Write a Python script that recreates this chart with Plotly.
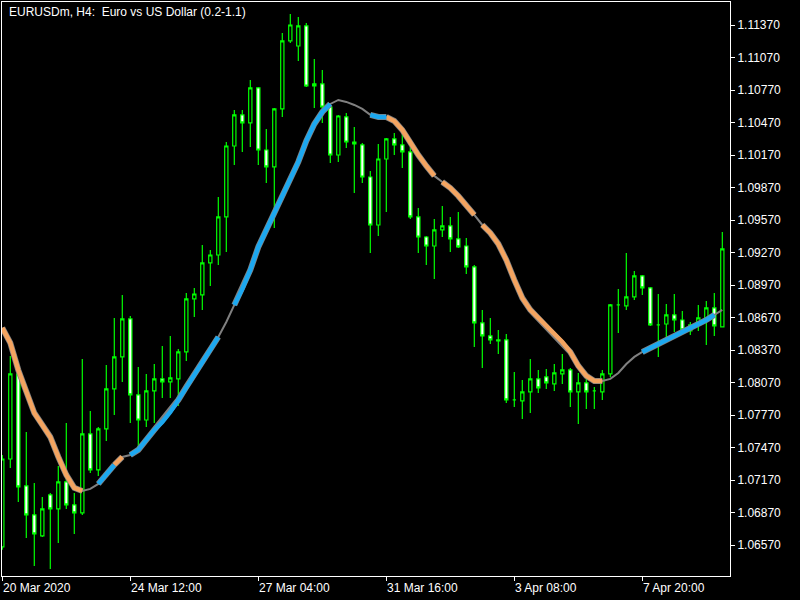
import plotly.graph_objects as go

# ---------------- data (EURUSDm, H4) ----------------
opens = [1.06552, 1.07364, 1.08149, 1.07115, 1.06848, 1.06654, 1.07032, 1.06903, 1.07152, 1.06940,
         1.06866, 1.07595, 1.07263, 1.07641, 1.08011, 1.08306, 1.08657, 1.07955, 1.07724, 1.07992,
         1.08103, 1.08075, 1.08103, 1.08352, 1.08841, 1.08878, 1.09174, 1.09247, 1.09598, 1.10253,
         1.10540, 1.10466, 1.10789, 1.10216, 1.10060, 1.10595, 1.11223, 1.11176, 1.11361, 1.10826,
         1.10826, 1.10613, 1.10170, 1.10521, 1.10290, 1.10263, 1.09967, 1.09524, 1.10133, 1.10318,
         1.10263, 1.10198, 1.09598, 1.09413, 1.09330, 1.09478, 1.09515, 1.09395, 1.09330, 1.09137,
         1.08620, 1.08500, 1.08463, 1.08463, 1.07909, 1.07900, 1.07983, 1.08103, 1.08121, 1.08057,
         1.08149, 1.08186, 1.07983, 1.08066, 1.07992, 1.07983, 1.08149, 1.08786, 1.08777, 1.08860,
         1.09054, 1.08943, 1.08601, 1.08610, 1.08694, 1.08647, 1.08546, 1.08601, 1.08666, 1.08758,
         1.08583]
highs = [1.07401, 1.08315, 1.08167, 1.07614, 1.07143, 1.07014, 1.07051, 1.07300, 1.07697, 1.07051,
         1.08287, 1.07807, 1.07660, 1.08232, 1.08666, 1.08878, 1.08684, 1.08214, 1.08149, 1.08241,
         1.08407, 1.08499, 1.08380, 1.08897, 1.08943, 1.09340, 1.09293, 1.09783, 1.10290, 1.10586,
         1.10586, 1.10863, 1.10798, 1.10410, 1.10604, 1.11296, 1.11472, 1.11444, 1.11389, 1.11056,
         1.10955, 1.10632, 1.10540, 1.10558, 1.10429, 1.10281, 1.10023, 1.10272, 1.10327, 1.10373,
         1.10364, 1.10244, 1.09681, 1.09423, 1.09580, 1.09700, 1.09598, 1.09644, 1.09404, 1.09155,
         1.08740, 1.08666, 1.08555, 1.08518, 1.08167, 1.08094, 1.08287, 1.08186, 1.08195, 1.08241,
         1.08334, 1.08204, 1.08158, 1.08112, 1.08029, 1.08186, 1.08795, 1.08934, 1.09266, 1.09100,
         1.09063, 1.08952, 1.08887, 1.08795, 1.08887, 1.08730, 1.08629, 1.08786, 1.08823, 1.08897,
         1.09460]
lows = [1.06525, 1.07281, 1.06968, 1.06635, 1.06377, 1.06644, 1.06349, 1.06589, 1.06903, 1.06672,
        1.06848, 1.07235, 1.07208, 1.07531, 1.07771, 1.08075, 1.07697, 1.07466, 1.07660, 1.07697,
        1.07927, 1.07927, 1.07854, 1.08269, 1.08675, 1.08740, 1.08961, 1.09155, 1.09275, 1.10078,
        1.10198, 1.10244, 1.10078, 1.09912, 1.09497, 1.10521, 1.11204, 1.11038, 1.10798, 1.10604,
        1.10466, 1.10097, 1.10106, 1.10235, 1.09820, 1.09912, 1.09266, 1.09423, 1.09644, 1.10170,
        1.10050, 1.09580, 1.09266, 1.09155, 1.09026, 1.09413, 1.09275, 1.09312, 1.09072, 1.08398,
        1.08204, 1.08426, 1.08334, 1.07881, 1.07844, 1.07734, 1.07789, 1.07974, 1.08011, 1.07992,
        1.08057, 1.07844, 1.07687, 1.07826, 1.07826, 1.07909, 1.08121, 1.08527, 1.08740, 1.08832,
        1.08878, 1.08592, 1.08306, 1.08481, 1.08537, 1.08518, 1.08509, 1.08546, 1.08417, 1.08500,
        1.08583]
closes = [1.07364, 1.08149, 1.07106, 1.06848, 1.06672, 1.06903, 1.06903, 1.07152, 1.06940, 1.06866,
          1.07595, 1.07263, 1.07641, 1.08011, 1.08306, 1.08657, 1.07955, 1.07724, 1.07992, 1.08103,
          1.08075, 1.08112, 1.08352, 1.08841, 1.08887, 1.09174, 1.09247, 1.09598, 1.10253, 1.10540,
          1.10466, 1.10789, 1.10216, 1.10060, 1.10595, 1.11223, 1.11370, 1.11361, 1.10807, 1.10807,
          1.10613, 1.10170, 1.10530, 1.10290, 1.10272, 1.09967, 1.09524, 1.10133, 1.10318, 1.10263,
          1.10198, 1.09598, 1.09413, 1.09330, 1.09478, 1.09515, 1.09395, 1.09321, 1.09137, 1.08620,
          1.08500, 1.08463, 1.08454, 1.07909, 1.07909, 1.07983, 1.08103, 1.08020, 1.08066, 1.08158,
          1.08186, 1.07983, 1.08066, 1.07983, 1.07992, 1.08149, 1.08786, 1.08786, 1.08860, 1.09054,
          1.08943, 1.08601, 1.08601, 1.08694, 1.08647, 1.08555, 1.08601, 1.08666, 1.08758, 1.08592,
          1.09303]

# adaptive moving average (0.2-1.1)
ma_values = [1.08574, 1.08435, 1.08186, 1.08001, 1.07789, 1.07678, 1.07567, 1.07383, 1.07217, 1.07097,
             1.07069, 1.07088, 1.07134, 1.07217, 1.07309, 1.07383, 1.07401, 1.07448, 1.07540, 1.07632,
             1.07706, 1.07798, 1.07909, 1.08029, 1.08140, 1.08260, 1.08380, 1.08490, 1.08629, 1.08786,
             1.08934, 1.09109, 1.09321, 1.09478, 1.09635, 1.09792, 1.09940, 1.10106, 1.10300, 1.10456,
             1.10567, 1.10641, 1.10678, 1.10660, 1.10632, 1.10595, 1.10540, 1.10521, 1.10521, 1.10484,
             1.10401, 1.10281, 1.10170, 1.10069, 1.09977, 1.09921, 1.09866, 1.09792, 1.09709, 1.09617,
             1.09524, 1.09450, 1.09349, 1.09201, 1.09017, 1.08850, 1.08740, 1.08666, 1.08592, 1.08518,
             1.08444, 1.08352, 1.08223, 1.08131, 1.08084, 1.08084, 1.08103, 1.08158, 1.08241, 1.08306,
             1.08352, 1.08389, 1.08426, 1.08463, 1.08500, 1.08537, 1.08564, 1.08610, 1.08647, 1.08694,
             1.08740]
# colour state of the segment ending at each bar: d = down (orange), u = up (blue), n = neutral (grey)
ma_state = list("n" + "d" * 10 + "nn" + "uu" + "d" + "n" + "u" * 11 + "nn" + "u" * 12 +
                "nnnnn" + "uu" + "d" * 6 + "n" + "d" * 4 + "n" + "d" * 15 + "nnnnn" + "u" * 9 + "n")

x_tick_bars = [0, 16, 32, 48, 64, 80]
x_tick_labels = ["20 Mar 2020", "24 Mar 12:00", "27 Mar 04:00", "31 Mar 16:00", "3 Apr 08:00", "7 Apr 20:00"]
price_ticks = [1.06570, 1.06870, 1.07170, 1.07470, 1.07770, 1.08070, 1.08370, 1.08670, 1.08970,
               1.09270, 1.09570, 1.09870, 1.10170, 1.10470, 1.10770, 1.11070, 1.11370]
chart_title = "EURUSDm, H4:\u00a0 Euro vs US Dollar (0.2-1.1)"

bars = list(range(len(opens)))

GREEN = "#00FF00"
ORANGE = "#F4A460"
BLUE = "#1CA8F0"
GREY = "#808080"
FONT = "Liberation Sans, Arial, sans-serif"

fig = go.Figure()

fig.add_trace(go.Candlestick(
    x=bars, open=opens, high=highs, low=lows, close=closes,
    increasing=dict(line=dict(color=GREEN, width=1.2), fillcolor="#000000"),
    decreasing=dict(line=dict(color=GREEN, width=1.2), fillcolor="#FFFFFF"),
    whiskerwidth=0, showlegend=False, hoverinfo="skip"))

# base grey line
fig.add_trace(go.Scatter(x=bars, y=ma_values, mode="lines",
                         line=dict(color=GREY, width=2), hoverinfo="skip", showlegend=False))


def runs(state_char):
    xs, ys = [], []
    i = 1
    n = len(ma_values)
    while i < n:
        if ma_state[i] == state_char:
            j = i
            while j + 1 < n and ma_state[j + 1] == state_char:
                j += 1
            xs += bars[i - 1:j + 1] + [None]
            ys += ma_values[i - 1:j + 1] + [None]
            i = j + 1
        else:
            i += 1
    return xs, ys


for ch, col in (("d", ORANGE), ("u", BLUE)):
    xs, ys = runs(ch)
    # thin grey rim under the coloured band, as drawn by the terminal
    fig.add_trace(go.Scatter(x=xs, y=ys, mode="lines", connectgaps=False,
                             line=dict(color=GREY, width=6), hoverinfo="skip", showlegend=False))
    fig.add_trace(go.Scatter(x=xs, y=ys, mode="lines", connectgaps=False,
                             line=dict(color=col, width=4.5), hoverinfo="skip", showlegend=False))

annotations = [dict(text=chart_title, xref="paper", yref="paper", x=0.0065, y=0.9826,
                    xanchor="left", yanchor="middle", showarrow=False,
                    font=dict(family=FONT, size=12, color="white"))]
for b, lab in zip(x_tick_bars, x_tick_labels):
    annotations.append(dict(text=lab, xref="x", yref="paper", x=b, y=-0.021,
                            xanchor="left", yanchor="middle", showarrow=False, xshift=-1,
                            font=dict(family=FONT, size=12, color="white")))

fig.update_layout(
    width=800, height=600,
    margin=dict(l=2, r=70, t=2, b=24),
    paper_bgcolor="black", plot_bgcolor="black",
    boxgap=0.42,
    showlegend=False,
    annotations=annotations,
    xaxis=dict(range=[-0.0375, 90.96], showgrid=False, zeroline=False,
               rangeslider=dict(visible=False),
               tickmode="array", tickvals=x_tick_bars, ticktext=[""] * len(x_tick_bars),
               showticklabels=False, ticks="outside", ticklen=4, tickcolor="white",
               showline=True, mirror=True, linecolor="white", linewidth=1),
    yaxis=dict(range=[1.062838, 1.115823], side="right", showgrid=False, zeroline=False,
               tickmode="array", tickvals=price_ticks,
               ticktext=[f"{v:.5f}" for v in price_ticks],
               ticks="outside", ticklen=4, tickcolor="white",
               tickfont=dict(family=FONT, size=12, color="white"),
               showline=True, mirror=True, linecolor="white", linewidth=1),
)

fig.write_html("out.html", config={"displayModeBar": False},
               post_script="document.body.style.margin='0px';document.body.style.overflow='hidden';")
